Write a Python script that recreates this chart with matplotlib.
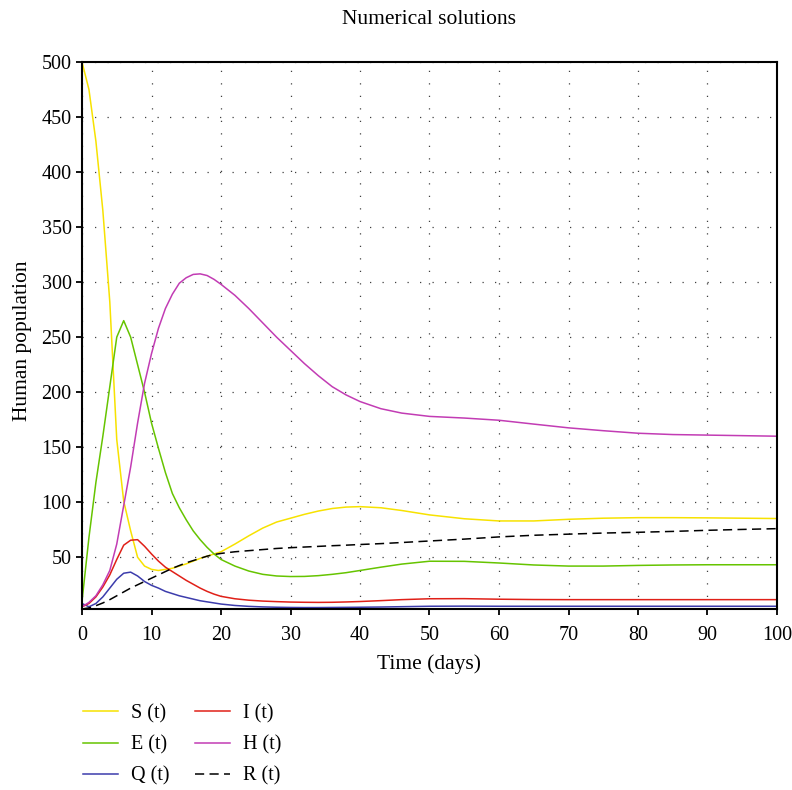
import numpy as np
import matplotlib
matplotlib.use("Agg")
import matplotlib.pyplot as plt

# ── data (days, persons) ──────────────────────────────────────────────────────
t = [0, 1, 2, 3, 4, 5, 6, 7, 8, 9, 10, 11, 12, 13, 14, 15, 16, 17, 18, 19, 20,
     22, 24, 26, 28, 30, 32, 34, 36, 38, 40, 43, 46, 50, 55, 60, 65, 70, 75,
     80, 85, 90, 95, 100]

S = [500, 475, 428, 365, 282, 157, 101, 74, 50, 42, 39, 38, 39, 40, 42, 44,
     46.5, 49, 51, 53, 55,
     62, 69.5, 76.5, 82, 85.5, 89, 92, 94.3, 95.6, 96, 95, 92.5, 88.5, 85,
     83, 83, 84.5, 85.5, 86, 86, 85.8, 85.5, 85.2]
E = [10, 68, 118, 160, 205, 250, 265, 250, 225, 200, 172, 149, 127, 108, 95,
     84, 74, 66, 59, 53, 48,
     42, 37.5, 34.5, 33, 32.5, 32.6, 33.3, 34.5, 36, 38, 41, 43.8, 46.4, 46.3,
     44.8, 43, 42, 42, 42.6, 43, 43.2, 43.2, 43.2]
I = [5, 8, 14, 23, 34, 48, 61, 65.5, 66, 60, 53, 46.5, 41, 37, 33, 29, 25.5,
     22, 19, 16.5, 14.5,
     12.3, 11, 10.2, 9.7, 9.3, 9.1, 9, 9.1, 9.4, 9.8, 10.6, 11.5, 12.3, 12.4,
     11.9, 11.6, 11.5, 11.5, 11.5, 11.5, 11.5, 11.5, 11.5]
H = [5, 9, 15, 25, 38, 62, 97, 132, 172, 208, 235, 258, 276, 289, 299, 304,
     307, 307.5, 306, 302.5, 298,
     288, 276, 263, 250, 238, 226, 215, 205, 197.5, 191.5, 185, 181, 178,
     176.5, 174.5, 171, 167.6, 165, 162.7, 161.5, 161, 160.5, 160]
Q = [8, 5, 8, 14, 22, 30, 35.5, 36.5, 33, 28, 24.5, 22, 19, 17, 15, 13.5, 12,
     10.5, 9.5, 8.5, 7.5,
     6.2, 5.4, 4.9, 4.6, 4.4, 4.3, 4.3, 4.4, 4.5, 4.6, 4.8, 5.1, 5.5, 5.6,
     5.5, 5.5, 5.5, 5.5, 5.5, 5.5, 5.5, 5.5, 5.5]
R = [3, 4, 6, 8.5, 11.5, 15, 18.5, 22, 25, 28, 31, 34, 37, 40, 42.5, 45, 47,
     49, 51, 52.5, 53.5,
     55, 56, 57, 58, 58.7, 59.3, 59.9, 60.5, 61, 61.6, 62.4, 63.4, 64.8, 66.5,
     68.5, 70, 71, 72, 72.7, 73.5, 74.5, 75.3, 76]

xticks = list(range(0, 101, 10))
yticks = list(range(50, 501, 50))

# ── style ─────────────────────────────────────────────────────────────────────
plt.rcParams["font.family"] = ["Liberation Serif", "DejaVu Serif"]
plt.rcParams["font.size"] = 14.5

fig = plt.figure(figsize=(7.92, 7.90), dpi=100)
ax = fig.add_axes([82 / 792, 1 - 609 / 790, 695 / 792, 547 / 790])

lw = 1.1
ax.plot(t, S, color="#f7e200", lw=lw, label="S (t)")
ax.plot(t, E, color="#66c400", lw=lw, label="E (t)")
ax.plot(t, Q, color="#3c3cac", lw=lw, label="Q (t)")
ax.plot(t, I, color="#e02018", lw=lw, label="I (t)")
ax.plot(t, H, color="#c23cb4", lw=lw, label="H (t)")
ax.plot(t, R, color="black", lw=1.1, dashes=(6, 3.5), label="R (t)")

ax.set_xlim(0, 100)
ax.set_ylim(3, 500)
ax.set_xticks(xticks)
ax.set_yticks(yticks)
ax.grid(True, color="0.25", lw=0.9, linestyle=(0, (1, 9)))
ax.set_axisbelow(True)

for sp in ax.spines.values():
    sp.set_linewidth(1.5)
ax.tick_params(axis="both", direction="out", length=4.5, width=1.3,
               labelsize=14.5)
ax.tick_params(axis="x", pad=8)
ax.tick_params(axis="y", pad=3)

ax.set_xlabel("Time (days)", fontsize=15.5)
ax.set_ylabel("Human population", fontsize=15.5)
ax.xaxis.set_label_coords(0.5, -0.083)
ax.yaxis.set_label_coords(-0.072, 0.49)

fig.text(429.5 / 792, 1 - 19 / 790, "Numerical solutions", ha="center",
         va="center", fontsize=15.5)

fig.legend(*ax.get_legend_handles_labels(), ncol=2, frameon=False,
           loc="upper left", bbox_to_anchor=(83 / 792, 1 - 704 / 790),
           borderpad=0, borderaxespad=0, handlelength=1.75,
           handletextpad=0.65, columnspacing=1.25, labelspacing=0.6,
           fontsize=14.5)

fig.savefig("out.png", dpi=100)
